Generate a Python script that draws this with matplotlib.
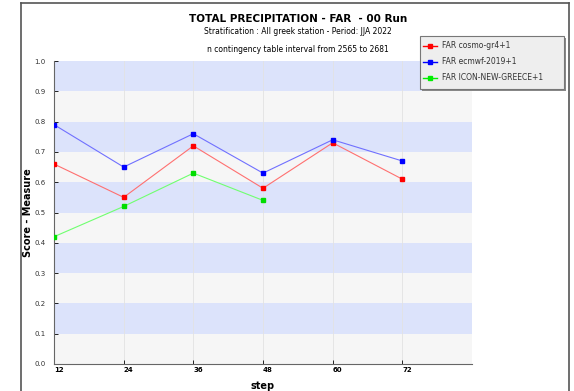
import matplotlib
matplotlib.use("Agg")
import matplotlib.pyplot as plt
from matplotlib.patches import Rectangle

steps = [12, 24, 36, 48, 60, 72]
cosmo = [0.66, 0.55, 0.72, 0.58, 0.73, 0.61]
ecmwf = [0.79, 0.65, 0.76, 0.63, 0.74, 0.67]
icon_steps = [12, 24, 36, 48]
icon = [0.42, 0.52, 0.63, 0.54]
labels = ["FAR cosmo-gr4+1", "FAR ecmwf-2019+1", "FAR ICON-NEW-GREECE+1"]
yticks = [0.0, 0.1, 0.2, 0.3, 0.4, 0.5, 0.6, 0.7, 0.8, 0.9, 1.0]
xticks = [12, 24, 36, 48, 60, 72]

plt.rcParams['font.family'] = ['DejaVu Sans']
fig = plt.figure(figsize=(5.74, 3.91), dpi=100)
fig.patch.set_facecolor('white')

# outer frame
fig.add_artist(plt.Line2D([21/574, 21/574], [0, 1 - 3/391], color='#555555', lw=1.2, transform=fig.transFigure))
fig.add_artist(plt.Line2D([21/574, 569/574], [1 - 3/391, 1 - 3/391], color='#555555', lw=1.2, transform=fig.transFigure))
fig.add_artist(plt.Line2D([569/574, 569/574], [0, 1 - 3/391], color='#555555', lw=1.2, transform=fig.transFigure))

ax = fig.add_axes([54/574, 1 - 364/391, (472 - 54)/574, (364 - 61)/391])
ax.set_xlim(12, 84)
ax.set_ylim(0, 1.0)
for i in range(10):
    c = '#dce3fb' if i % 2 == 1 else '#f6f6f6'
    ax.axhspan(i / 10, (i + 1) / 10, color=c, zorder=0, lw=0)
for x in xticks[1:] + [84]:
    ax.axvline(x, color='#e2e2e2', lw=0.6, zorder=1)

ax.plot(steps, cosmo, color='#ff7070', lw=0.8, zorder=3)
ax.plot(steps, cosmo, ls='none', marker='s', ms=2.3, color='red', zorder=4)
ax.plot(steps, ecmwf, color='#7070ff', lw=0.8, zorder=3)
ax.plot(steps, ecmwf, ls='none', marker='s', ms=2.3, color='blue', zorder=4)
ax.plot(icon_steps, icon, color='#70ff70', lw=0.8, zorder=3)
ax.plot(icon_steps, icon, ls='none', marker='s', ms=2.3, color='#00dd00', zorder=4)

ax.set_yticks(yticks)
ax.set_yticklabels([f"{v:.1f}" for v in yticks], fontsize=5, color='#333333')
ax.set_xticks(xticks)
ax.set_xticklabels([str(v) for v in xticks], fontsize=5, fontweight='bold')
ax.tick_params(axis='y', direction='in', length=3, width=0.6, pad=6)
ax.tick_params(axis='x', direction='in', length=3, width=0.6, pad=2)
for s in ['top', 'right']:
    ax.spines[s].set_visible(False)
for s in ['left', 'bottom']:
    ax.spines[s].set_color('#666666')
    ax.spines[s].set_linewidth(0.8)
for lab in ax.get_xticklabels():
    lab.set_horizontalalignment('left')

ax.set_ylabel("Score - Measure", fontsize=7, fontweight='bold')
ax.yaxis.set_label_coords(-0.05, 0.5)
ax.set_xlabel("step", fontsize=7, fontweight='bold', labelpad=6)

fig.text(298/574, 1 - 19/391, "TOTAL PRECIPITATION - FAR  - 00 Run", ha='center', va='center', fontsize=7.5, fontweight='bold')
fig.text(298/574, 1 - 32/391, "Stratification : All greek station - Period: JJA 2022", ha='center', va='center', fontsize=5.5)
fig.text(298/574, 1 - 49/391, "n contingency table interval from 2565 to 2681", ha='center', va='center', fontsize=5.5)

# legend box
lx0, ly0, lx1, ly1 = 420, 36, 564, 89
fig.add_artist(Rectangle(((lx0 + 2)/574, 1 - (ly1 + 2)/391), (lx1 - lx0)/574, (ly1 - ly0)/391,
                         transform=fig.transFigure, facecolor='#888888', edgecolor='none', zorder=5))
fig.add_artist(Rectangle((lx0/574, 1 - ly1/391), (lx1 - lx0)/574, (ly1 - ly0)/391,
                         transform=fig.transFigure, facecolor='#eeeeee', edgecolor='#777777', lw=0.8, zorder=6))
cols = ['red', 'blue', '#00ee00']
for i, (lab, c) in enumerate(zip(labels, cols)):
    yy = 1 - (46 + i * 16)/391
    fig.add_artist(plt.Line2D([(lx0 + 3)/574, (lx0 + 17)/574], [yy, yy], color=c, lw=1, transform=fig.transFigure, zorder=7))
    fig.add_artist(plt.Line2D([(lx0 + 10)/574], [yy], color=c, marker='s', ms=3.5, transform=fig.transFigure, zorder=8))
    fig.text((lx0 + 22)/574, yy, lab, ha='left', va='center', fontsize=5.5, color='#333333', zorder=9)

fig.savefig("out.png", dpi=100)
